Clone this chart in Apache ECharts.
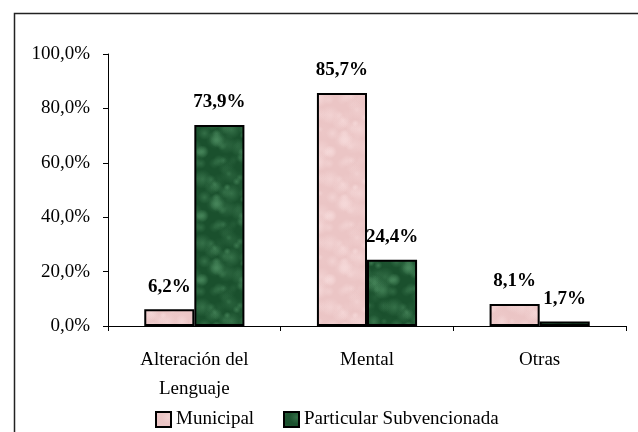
<!DOCTYPE html>
<html>
<head>
<meta charset="utf-8">
<script src="https://cdn.jsdelivr.net/npm/echarts@6/dist/echarts.min.js"></script>
<style>
  html, body { margin: 0; padding: 0; background: #fff; }
  #chart { width: 638px; height: 432px; }
</style>
</head>
<body>
<div id="chart"></div>
<script>
// datos
var categorias = ['Alteración del\nLenguaje', 'Mental', 'Otras'];
var municipal = [6.2, 85.7, 8.1];
var subvencionada = [73.9, 24.4, 1.7];
var ticksY = [0, 20, 40, 60, 80, 100];

var serif = '"Liberation Serif", "DejaVu Serif", serif';

function pct(v) {
  return v.toFixed(1).replace('.', ',') + '%';
}

// textura moteada para las barras (solo decorativa)
// rgb = componentes del color de las manchas
function textura(base, rgb, alfa) {
  var c = document.createElement('canvas');
  c.width = 64; c.height = 64;
  var ctx = c.getContext('2d');
  ctx.fillStyle = base;
  ctx.fillRect(0, 0, 64, 64);
  var s = 11;
  function rnd() { s = (s * 16807) % 2147483647; return s / 2147483647; }
  for (var i = 0; i < 70; i++) {
    var x = rnd() * 64, y = rnd() * 64, r = 3 + rnd() * 7;
    var a = alfa * rnd();
    var g = ctx.createRadialGradient(x, y, 0, x, y, r);
    g.addColorStop(0, 'rgba(' + rgb + ',' + a + ')');
    g.addColorStop(1, 'rgba(' + rgb + ',0)');
    ctx.fillStyle = g;
    // repetir en los bordes para que el mosaico no se note
    for (var dx = -64; dx <= 64; dx += 64) {
      for (var dy = -64; dy <= 64; dy += 64) {
        ctx.save();
        ctx.translate(dx, dy);
        ctx.beginPath();
        ctx.arc(x, y, r, 0, Math.PI * 2);
        ctx.fill();
        ctx.restore();
      }
    }
  }
  return { image: c, repeat: 'repeat' };
}

var chart = echarts.init(document.getElementById('chart'));

var option = {
  backgroundColor: '#fff',
  animation: false,
  graphic: [{
    type: 'rect',
    left: 12, top: 11,
    shape: { width: 700, height: 500 },
    style: { fill: 'none', stroke: '#222', lineWidth: 1.5 },
    silent: true
  }],
  legend: [{
    left: 150, top: 405,
    itemWidth: 15, itemHeight: 15,
    icon: 'rect',
    textStyle: { fontFamily: serif, fontSize: 19, color: '#000' },
    data: ['Municipal']
  }, {
    left: 278, top: 405,
    itemWidth: 15, itemHeight: 15,
    icon: 'rect',
    textStyle: { fontFamily: serif, fontSize: 19, color: '#000' },
    data: ['Particular Subvencionada']
  }],
  grid: { left: 108, right: 12, top: 54, bottom: 106 },
  xAxis: {
    type: 'category',
    data: categorias,
    axisLine: { lineStyle: { color: '#000', width: 1 } },
    axisTick: { show: true, length: 5, lineStyle: { color: '#000' } },
    axisLabel: { fontFamily: serif, fontSize: 19, color: '#000', margin: 20, lineHeight: 29 }
  },
  yAxis: {
    type: 'value',
    min: ticksY[0], max: ticksY[ticksY.length - 1], interval: 20,
    splitLine: { show: false },
    axisLine: { show: true, lineStyle: { color: '#000', width: 1 } },
    axisTick: { show: true, length: 5, lineStyle: { color: '#000' } },
    axisLabel: {
      fontFamily: serif, fontSize: 19, color: '#000', margin: 18,
      formatter: function (v) { return pct(v); }
    }
  },
  series: [
    {
      name: 'Municipal',
      type: 'bar',
      data: municipal,
      barGap: '0%',
      barCategoryGap: '42%',
      itemStyle: { color: textura('#ebc5c5', '246,218,218', 0.8), borderColor: '#000', borderWidth: 2 },
      label: {
        show: true, position: 'top', distance: 13,
        fontFamily: serif, fontSize: 19, fontWeight: 'bold', color: '#000',
        formatter: function (p) { return pct(p.value); }
      }
    },
    {
      name: 'Particular Subvencionada',
      type: 'bar',
      data: subvencionada,
      itemStyle: { color: textura('#1a502d', '80,145,100', 0.6), borderColor: '#000', borderWidth: 2 },
      label: {
        show: true, position: 'top', distance: 13,
        fontFamily: serif, fontSize: 19, fontWeight: 'bold', color: '#000',
        formatter: function (p) { return pct(p.value); }
      }
    }
  ]
};

chart.setOption(option);
</script>
</body>
</html>
